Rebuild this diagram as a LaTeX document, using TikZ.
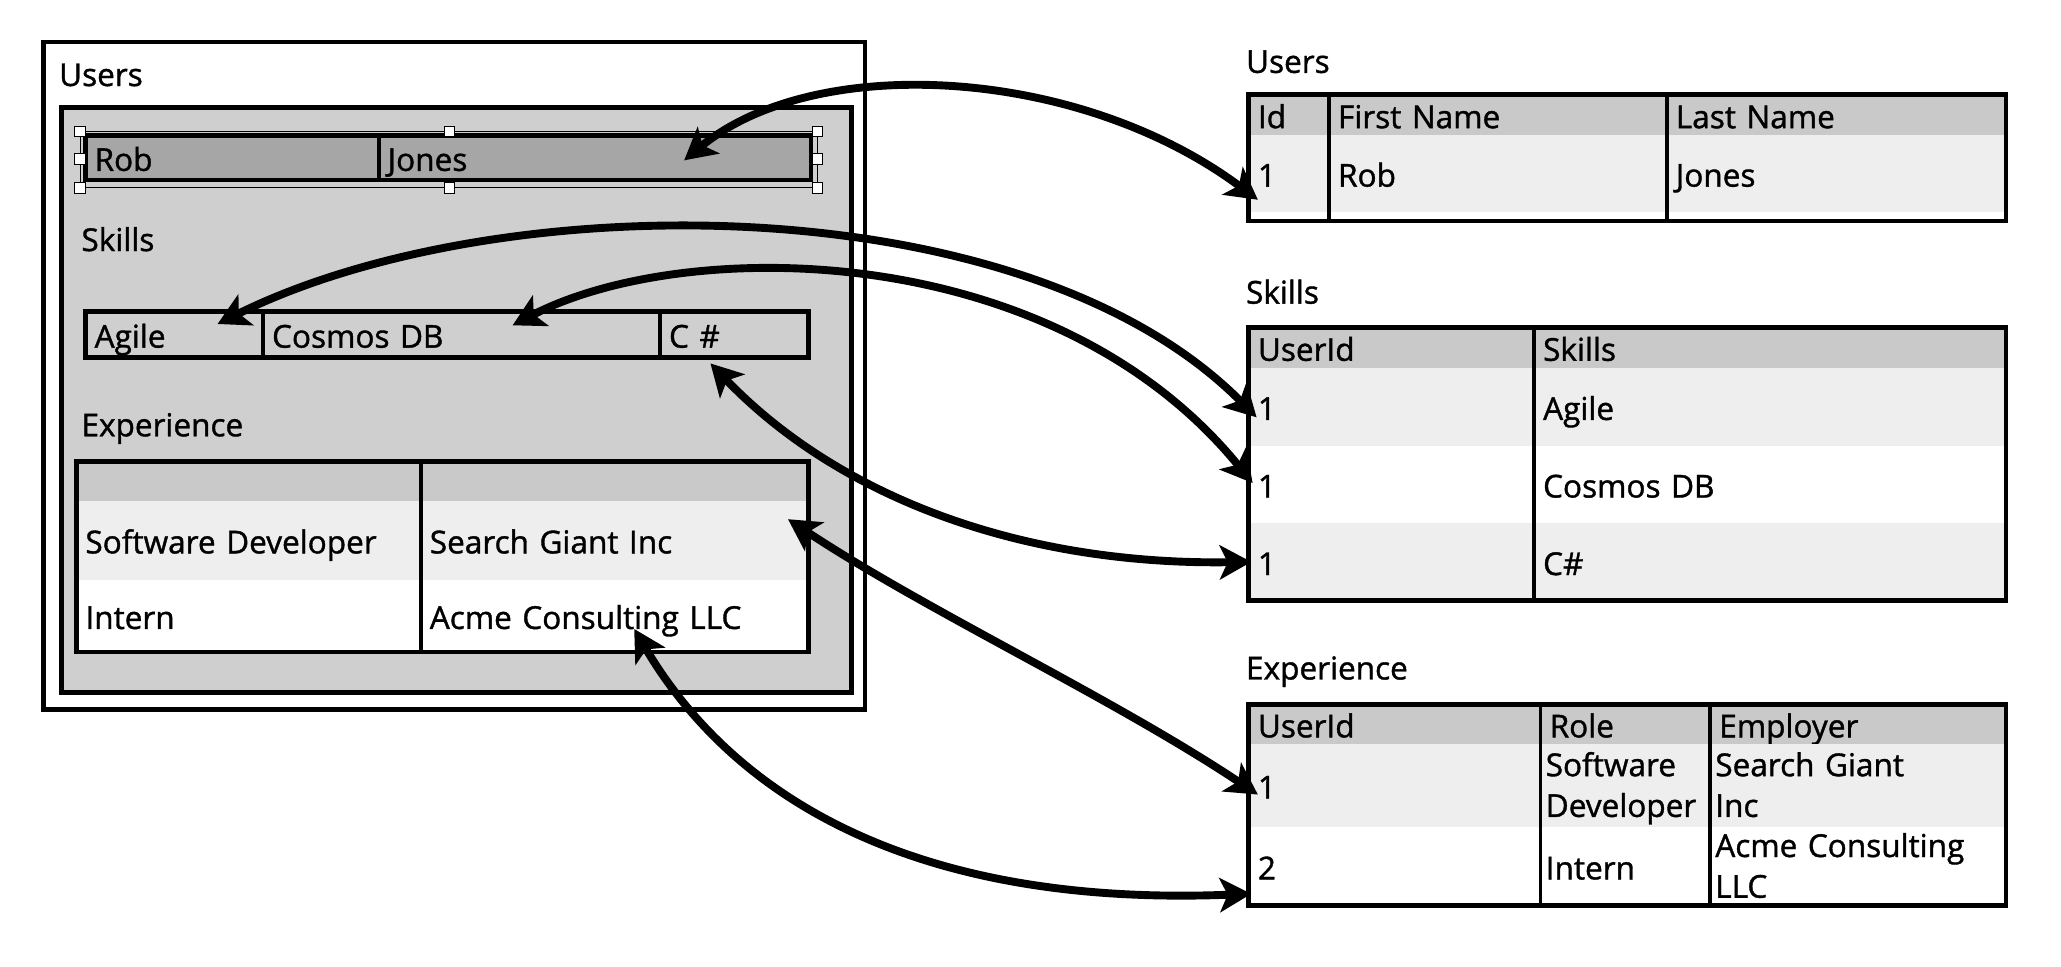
\documentclass[tikz,border=0pt]{standalone}
\usepackage{fontspec}
\setmainfont{Open Sans}[FakeBold=1.2]
\usetikzlibrary{arrows.meta}

\definecolor{panelgray}{HTML}{CFCFCF}
\definecolor{hdrgray}{HTML}{C9C9C9}
\definecolor{rowgray}{HTML}{EEEEEE}
\definecolor{selgray}{HTML}{A6A6A6}

\begin{document}
\begin{tikzpicture}[x=1pt, y=-1pt,
    every node/.style={font=\fontsize{24}{31}\selectfont, inner sep=0pt, outer sep=0pt},
    panelbox/.style={draw, line width=3.5pt, anchor=north west},
    heading/.style={anchor=west},
    cell/.style n args={3}{anchor=north west, fill=#3, minimum width=#1pt, text width=#1pt-14pt,
      minimum height=#2pt, inner xsep=7pt, inner ysep=0pt, align=left,
      text height=22pt, text depth=2pt},
    twolines/.style={text height=23pt, text depth=37pt},
    tblborder/.style={draw, line width=3.5pt},
    coldiv/.style={draw, line width=3pt},
    handle/.style={draw, fill=white, line width=0.8pt},
    link/.style={line width=6pt, line cap=round, <->, >={Stealth[length=24pt, width=26pt, inset=6pt]}}]
      \useasboundingbox (0,0) rectangle (1568,735);

      % Mockup - form and panel
      \node (form) [panelbox, minimum width=625pt, minimum height=508pt] at (33,32) {};
      \node (formusers) [heading] at (45,57) {Users};
      \node (panel) [panelbox, fill=panelgray, minimum width=601pt, minimum height=445pt] at (47,82) {};

      % Mockup - selected user row
      \node (rob) [cell={223}{34}{selgray}] at (65,103) {Rob};
      \node (jones) [cell={329}{34}{selgray}] at (288,103) {Jones};
      \draw[tblborder] (rob.north west) rectangle (jones.south east);
      \draw[coldiv] (rob.north east) -- (rob.south east);
      \draw[line width=0.8pt] (61,100) rectangle (622,143);
      \foreach \hx/\hy in {61/100, 342/100, 622/100, 61/121, 622/121, 61/143, 342/143, 622/143}
        \draw[handle] (\hx-4,\hy-4) rectangle (\hx+4,\hy+4);

      % Mockup - skills row
      \node (formskills) [heading] at (62,182) {Skills};
      \node (agile) [cell={135}{35}{panelgray}] at (65,237) {Agile};
      \node (cosmos) [cell={302}{35}{panelgray}] at (200,237) {Cosmos DB};
      \node (csharp) [cell={113}{35}{panelgray}] at (502,237) {C \#};
      \draw[tblborder] (agile.north west) rectangle (csharp.south east);
      \draw[coldiv] (agile.north east) -- (agile.south east);
      \draw[coldiv] (cosmos.north east) -- (cosmos.south east);

      % Mockup - experience grid
      \node (formexp) [heading] at (62,326) {Experience};
      \node (mhrole) [cell={262}{30}{hdrgray}] at (58,351) {};
      \node (mhemp) [cell={295}{30}{hdrgray}] at (320,351) {};
      \node (mrole1) [cell={262}{60}{rowgray}] at (58,381) {Software Developer};
      \node (memp1) [cell={295}{60}{rowgray}] at (320,381) {Search Giant Inc};
      \node (mrole2) [cell={262}{55}{white}] at (58,441) {Intern};
      \node (memp2) [cell={295}{55}{white}] at (320,441) {Acme Consulting LLC};
      \draw[tblborder] (mhrole.north west) rectangle (memp2.south east);
      \draw[coldiv] (mhrole.north east) -- (mrole2.south east);

      % Tables - Users
      \node (tusers) [heading] at (948,47) {Users};
      \node (uhid) [cell={61}{31}{hdrgray}] at (950,72) {Id};
      \node (uhfirst) [cell={257}{31}{hdrgray}] at (1011,72) {First Name};
      \node (uhlast) [cell={258}{31}{hdrgray}] at (1268,72) {Last Name};
      \node (uid1) [cell={61}{58}{rowgray}] at (950,103) {1};
      \node (ufirst1) [cell={257}{58}{rowgray}] at (1011,103) {Rob};
      \node (ulast1) [cell={258}{58}{rowgray}] at (1268,103) {Jones};
      \draw[tblborder] (uhid.north west) rectangle ([yshift=-7pt]ulast1.south east);
      \draw[coldiv] (uhid.north east) -- ([yshift=-7pt]uid1.south east);
      \draw[coldiv] (uhfirst.north east) -- ([yshift=-7pt]ufirst1.south east);

      % Tables - Skills
      \node (tskills) [heading] at (948,222) {Skills};
      \node (shuid) [cell={217}{31}{hdrgray}] at (950,249) {UserId};
      \node (shskill) [cell={359}{31}{hdrgray}] at (1167,249) {Skills};
      \node (suid1) [cell={217}{59}{rowgray}] at (950,280) {1};
      \node (sskill1) [cell={359}{59}{rowgray}] at (1167,280) {Agile};
      \node (suid2) [cell={217}{59}{white}] at (950,339) {1};
      \node (sskill2) [cell={359}{59}{white}] at (1167,339) {Cosmos DB};
      \node (suid3) [cell={217}{59}{rowgray}] at (950,398) {1};
      \node (sskill3) [cell={359}{59}{rowgray}] at (1167,398) {C\#};
      \draw[tblborder] (shuid.north west) rectangle (sskill3.south east);
      \draw[coldiv] (shuid.north east) -- (suid3.south east);

      % Tables - Experience
      \node (texp) [heading] at (948,511) {Experience};
      \node (ehuid) [cell={222}{30}{hdrgray}] at (950,536) {UserId};
      \node (ehrole) [cell={129}{30}{hdrgray}] at (1172,536) {Role};
      \node (ehemp) [cell={225}{30}{hdrgray}] at (1301,536) {Employer};
      \node (euid1) [cell={222}{63}{rowgray}] at (950,566) {1};
      \node (erole1) [cell={129}{63}{rowgray}, twolines, inner xsep=4pt, text width=121pt] at (1172,566) {Software\\Developer};
      \node (eemp1) [cell={225}{63}{rowgray}, twolines, inner xsep=4pt, text width=217pt] at (1301,566) {Search Giant\\Inc};
      \node (euid2) [cell={222}{60}{white}] at (950,629) {2};
      \node (erole2) [cell={129}{60}{white}, inner xsep=4pt, text width=121pt] at (1172,629) {Intern};
      \node (eemp2) [cell={225}{60}{white}, twolines, inner xsep=4pt, text width=217pt] at (1301,629) {Acme Consulting\\LLC};
      \draw[tblborder] (ehuid.north west) rectangle (eemp2.south east);
      \draw[coldiv] (ehuid.north east) -- (euid2.south east);
      \draw[coldiv] (ehrole.north east) -- (erole2.south east);

      % Links
      \draw[link] ([shift={(68,2)}]jones.center) .. controls (620,40) and (820,50) .. ([shift={(7,20)}]uid1.west);
      \draw[link] ([shift={(33,-8)}]agile.center) .. controls (380,140) and (780,140) .. ([shift={(6,8)}]suid1.west);
      \draw[link] ([shift={(39,-7)}]cosmos.center) .. controls (520,180) and (800,180) .. ([shift={(3,-1)}]suid2.west);
      \draw[link] ([shift={(-18,22)}]csharp.center) .. controls (640,380) and (780,430) .. ([shift={(2,0)}]suid3.west);
      \draw[link] ([shift={(132,-16)}]memp1.center) .. controls (705,465) and (845,530) .. ([shift={(7,7)}]euid1.west);
      \draw[link] ([shift={(15,10)}]memp2.center) .. controls (560,610) and (700,690) .. ([shift={(2,21)}]euid2.west);

    \end{tikzpicture}
\end{document}
